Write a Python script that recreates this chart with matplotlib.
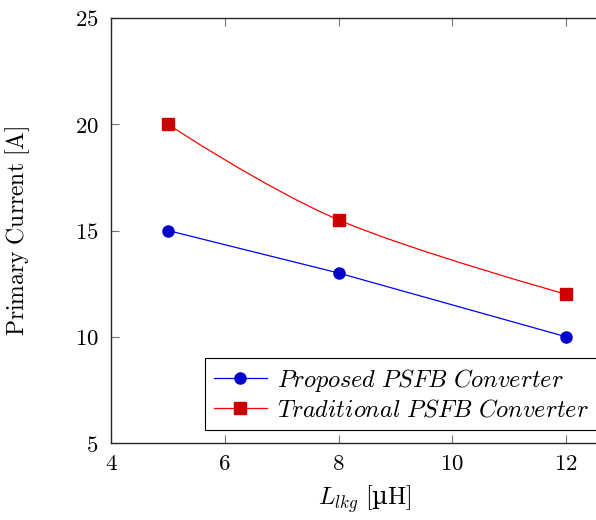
import numpy as np
import matplotlib
matplotlib.use("Agg")
import matplotlib.pyplot as plt
from matplotlib.path import Path
from matplotlib.patches import PathPatch

plt.rcParams['mathtext.fontset'] = 'cm'
plt.rcParams['font.family'] = 'DejaVu Serif'

# data
l_lkg = [5, 8, 12]
proposed = [15, 13, 10]
traditional = [20, 15.5, 12]
x_ticks = [4, 6, 8, 10, 12]
y_ticks = [5, 10, 15, 20, 25]


def smooth_path(xs, ys, tension=0.55):
    # tikz-like smooth curve through the points (bezier control points)
    pts = np.column_stack([xs, ys]).astype(float)
    n = len(pts)
    tang = []
    for i in range(n):
        a = pts[max(i - 1, 0)]
        b = pts[min(i + 1, n - 1)]
        tang.append((b - a) * tension / 3.0)
    verts = [pts[0]]
    codes = [Path.MOVETO]
    for i in range(n - 1):
        c1 = pts[i] + (tang[i] if i > 0 else 0)
        c2 = pts[i + 1] - (tang[i + 1] if i + 1 < n - 1 else 0)
        verts += [c1, c2, pts[i + 1]]
        codes += [Path.CURVE4] * 3
    return Path(verts, codes)


fig = plt.figure(figsize=(5.96, 5.2), dpi=100)
W, H = 596, 520
px_unit = (566 - 111) / 8.0
axw = 9 * px_unit
ax = fig.add_axes([111 / W, 77 / H, axw / W, 425 / H])

ax.plot(l_lkg, proposed, color='blue', lw=0.9, marker='o', ms=8,
        mfc='#0000cc', mec='#0000cc', label=r'$Proposed\ PSFB\ Converter$')
ax.add_patch(PathPatch(smooth_path(l_lkg, traditional), fill=False,
                       edgecolor='red', lw=0.9))
ax.plot(l_lkg, traditional, color='red', lw=0.9, ls='none', marker='s', ms=8,
        mfc='#cc0000', mec='#cc0000')
ax.plot([], [], color='red', lw=0.9, marker='s', ms=8, mfc='#cc0000',
        mec='#cc0000', label=r'$Traditional\ PSFB\ Converter$')

ax.set_xlim(4, 13)
ax.set_ylim(5, 25)
ax.set_xticks(x_ticks)
ax.set_yticks(y_ticks)
ax.set_xticklabels([f'${t}$' for t in x_ticks])
ax.set_yticklabels([f'${t}$' for t in y_ticks])
ax.tick_params(direction='in', length=6, width=0.8, color='0.45',
               top=True, right=True, labelsize=16.5)
ax.tick_params(axis='y', pad=9)
ax.tick_params(axis='x', pad=7)
for s in ax.spines.values():
    s.set_linewidth(1.0)
    s.set_color('0.15')

ax.set_xlabel(r'$L_{lkg}\ [$µ$\mathrm{H}]$', fontsize=17.5)
ax.set_ylabel(r'$\mathrm{Primary\ Current\ [A]}$', fontsize=17)
ax.xaxis.set_label_coords((365 - 111) / axw, -(483 - 443) / 425)
ax.yaxis.set_label_coords(-(111 - 32) / axw, 0.5)

leg = ax.legend(loc='lower left', bbox_to_anchor=(205 / W, (520 - 430) / H),
                bbox_transform=fig.transFigure, fontsize=17.5, frameon=True,
                fancybox=False, edgecolor='black', framealpha=1,
                handlelength=2.2, handletextpad=0.4, borderpad=0.35,
                labelspacing=0.2, borderaxespad=0)
leg.get_frame().set_linewidth(0.8)

fig.savefig('out.png', dpi=100)
